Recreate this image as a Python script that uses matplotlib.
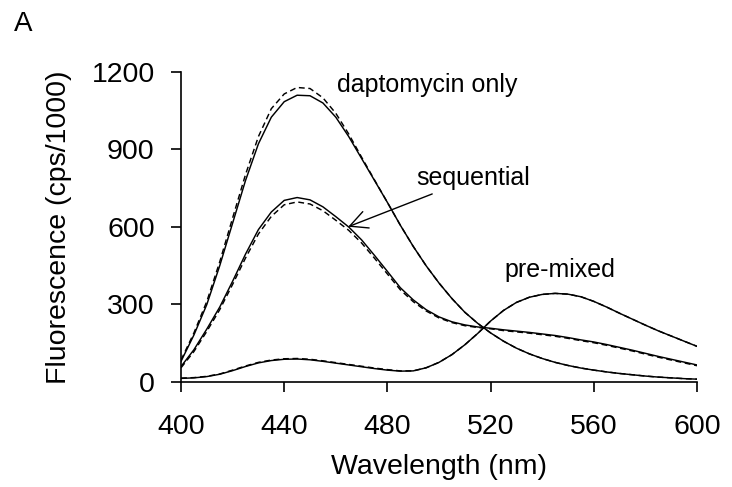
import numpy as np
import matplotlib
matplotlib.use("Agg")
import matplotlib.pyplot as plt

plt.rcParams['font.family'] = ['Liberation Sans', 'DejaVu Sans']

# wavelength grid (nm)
wavelength = np.arange(400, 601, 5)

# fluorescence (cps/1000), solid = one replicate, dashed = the other
dapto_solid = [80, 182, 300, 450, 615, 780, 922, 1025, 1085, 1110, 1108,
               1080, 1025, 950, 865, 780, 695, 607, 525, 450, 383,
               323, 270, 227, 190, 158, 131, 109, 91, 76, 64,
               54, 46, 39, 33, 28, 23, 19, 16, 13, 11]
dapto_dash = [85, 190, 312, 465, 635, 803, 950, 1058, 1115, 1140, 1136,
              1100, 1040, 960, 870, 782, 695, 607, 525, 450, 383,
              323, 270, 227, 190, 158, 131, 109, 91, 76, 64,
              54, 46, 39, 33, 28, 23, 19, 16, 13, 11]

seq_solid = [60, 125, 205, 290, 390, 495, 590, 658, 703, 714, 705,
             678, 640, 600, 550, 490, 428, 365, 318, 280, 252,
             233, 221, 213, 208, 202, 197, 192, 186, 180, 172,
             163, 155, 145, 134, 123, 111, 99, 88, 77, 66]
seq_dash = [55, 118, 196, 280, 378, 480, 573, 641, 686, 697, 689,
            663, 626, 587, 538, 479, 418, 357, 311, 275, 248,
            230, 218, 211, 206, 199, 194, 189, 183, 177, 169,
            160, 152, 142, 131, 120, 108, 96, 85, 74, 63]

pre_solid = [14, 16, 21, 30, 44, 60, 74, 83, 88, 89, 86,
             80, 73, 66, 59, 52, 46, 42, 43, 55, 76,
             106, 144, 188, 236, 277, 308, 328, 339, 343, 340,
             330, 312, 290, 266, 243, 220, 198, 178, 158, 138]
pre_dash = [15, 17, 22, 31, 46, 62, 76, 85, 90, 91, 88,
            82, 75, 68, 61, 54, 48, 43, 43, 55, 76,
            106, 144, 188, 236, 277, 308, 328, 339, 343, 340,
            330, 312, 290, 266, 243, 220, 198, 178, 158, 138]

fig = plt.figure(figsize=(7.32, 4.87), dpi=100)
ax = fig.add_axes([0.2473, 0.2156, 0.7049, 0.6366])

lw = 1.05
for solid, dash in [(dapto_solid, dapto_dash), (seq_solid, seq_dash), (pre_solid, pre_dash)]:
    ax.plot(wavelength, solid, color='black', lw=lw, solid_joinstyle='round')
    ax.plot(wavelength, dash, color='black', lw=lw, dashes=(4, 2.5))

ax.set_xlim(400, 600)
ax.set_ylim(0, 1200)
ax.set_xticks([400, 440, 480, 520, 560, 600])
ax.set_yticks([0, 300, 600, 900, 1200])

for side in ['top', 'right']:
    ax.spines[side].set_visible(False)
for side in ['left', 'bottom']:
    ax.spines[side].set_linewidth(1.2)
    ax.spines[side].set_clip_on(False)

ax.tick_params(axis='both', direction='out', length=7, width=1.2,
               labelsize=20.5, colors='black')
ax.tick_params(axis='x', pad=16)
ax.tick_params(axis='y', pad=12)

ax.set_xlabel('Wavelength (nm)', fontsize=20.5, labelpad=10)
ax.set_ylabel('Fluorescence (cps/1000)', fontsize=20.5, labelpad=14)

ax.text(495.5, 1150, 'daptomycin only', fontsize=18, ha='center', va='center')
ax.text(546.9, 434, 'pre-mixed', fontsize=18, ha='center', va='center')
ax.annotate('sequential', xy=(464.8, 601), xytext=(491, 789),
            fontsize=18, ha='left', va='center',
            arrowprops=dict(arrowstyle='->,head_length=0.7,head_width=0.35',
                            color='black', lw=1.0, shrinkA=2, shrinkB=0))

fig.text(23 / 732, 1 - 24 / 487, 'A', fontsize=20, ha='center', va='center')

fig.savefig('out.png', dpi=100)
